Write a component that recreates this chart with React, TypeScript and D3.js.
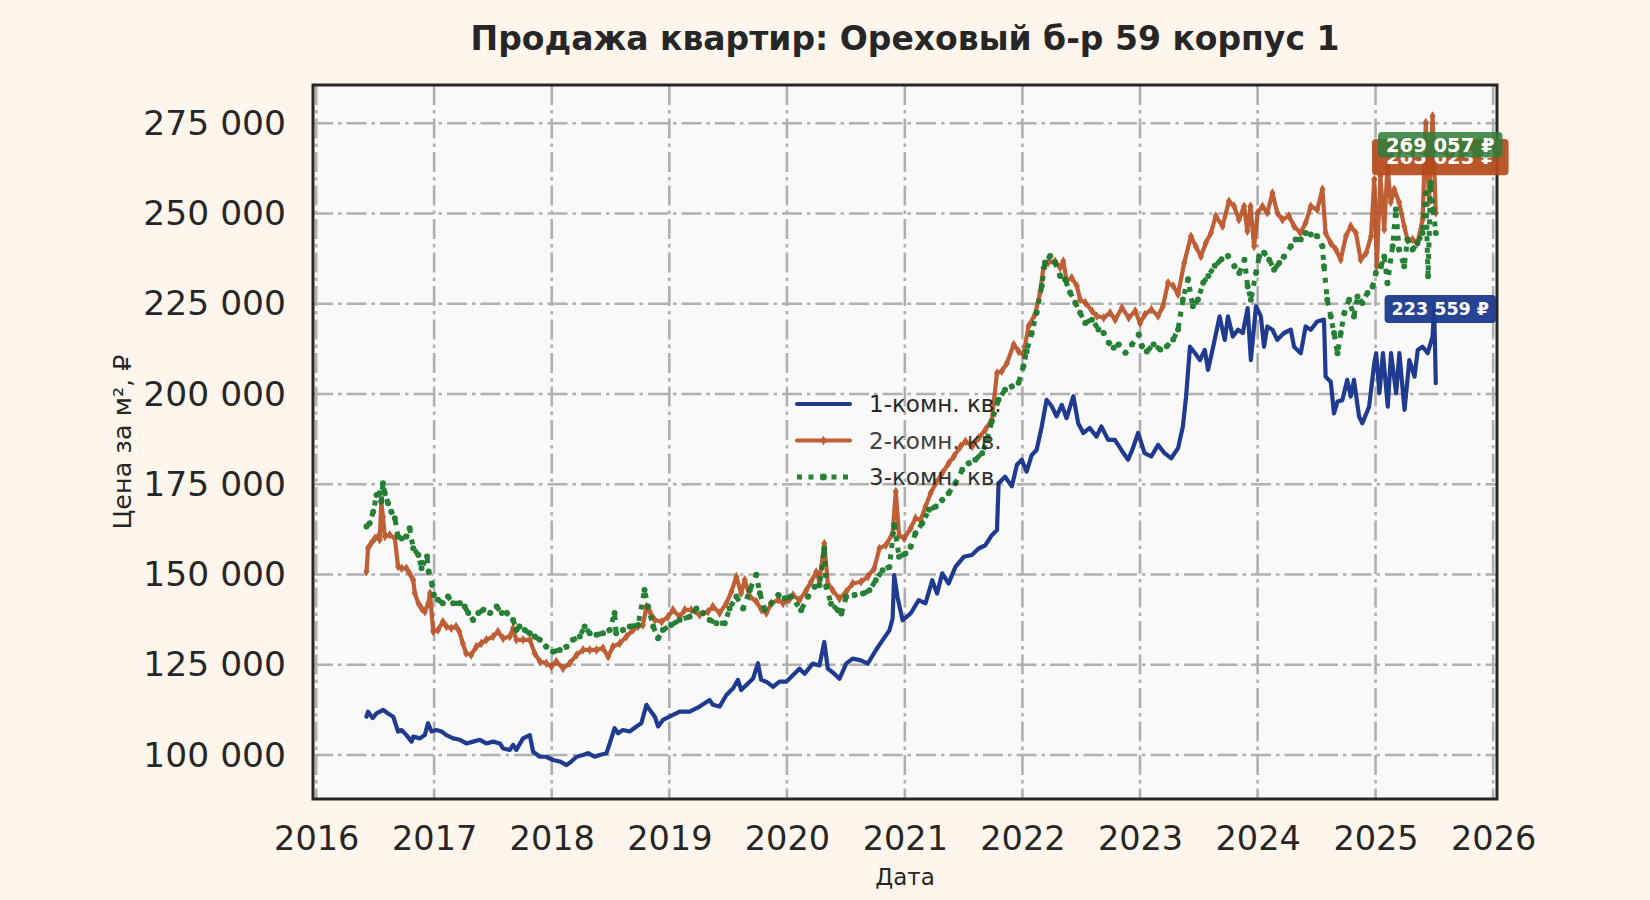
import * as d3 from 'd3';
import { useEffect, useRef } from 'react';

type Point = [string, number];

const chartTitle = 'Продажа квартир: Ореховый б-р 59 корпус 1';
const yAxisLabel = 'Цена за м², ₽';
const xAxisLabel = 'Дата';

const seriesNames = ['1-комн. кв.', '2-комн. кв.', '3-комн. кв.'];

const yTicks = [100000, 125000, 150000, 175000, 200000, 225000, 250000, 275000];
const xTickYears = [2016, 2017, 2018, 2019, 2020, 2021, 2022, 2023, 2024, 2025, 2026];

// 1-room flats
const oneRoom: Point[] = [
  ['2016-06-05', 110600], ['2016-06-10', 112000], ['2016-06-24', 110200], ['2016-07-06', 111500],
  ['2016-07-27', 112500], ['2016-08-11', 111500], ['2016-08-27', 110600], ['2016-09-11', 106500],
  ['2016-09-22', 106900], ['2016-10-07', 105500], ['2016-10-23', 103700], ['2016-10-28', 105100],
  ['2016-11-18', 104600], ['2016-12-03', 105500], ['2016-12-13', 108800], ['2016-12-24', 106500],
  ['2017-01-08', 106900], ['2017-01-24', 106500], ['2017-02-08', 105500], ['2017-03-01', 104600],
  ['2017-03-22', 104200], ['2017-04-11', 103200], ['2017-05-02', 103700], ['2017-05-23', 104200],
  ['2017-06-12', 103200], ['2017-07-03', 103700], ['2017-07-24', 103200], ['2017-08-03', 101800],
  ['2017-08-24', 101400], ['2017-09-03', 102800], ['2017-09-13', 101400], ['2017-10-04', 104600],
  ['2017-10-25', 105500], ['2017-11-04', 100900], ['2017-11-25', 99500], ['2017-12-15', 99500],
  ['2018-01-05', 98600], ['2018-01-26', 98200], ['2018-02-16', 97200], ['2018-03-03', 98200],
  ['2018-03-19', 99500], ['2018-04-08', 100000], ['2018-04-24', 100500], ['2018-05-14', 99500],
  ['2018-05-30', 100000], ['2018-06-20', 100500], ['2018-06-30', 103200], ['2018-07-15', 107400],
  ['2018-07-26', 106000], ['2018-08-10', 106900], ['2018-08-31', 106500], ['2018-09-21', 107900],
  ['2018-10-06', 108800], ['2018-10-22', 113900], ['2018-11-01', 112500], ['2018-11-17', 110600],
  ['2018-11-27', 107900], ['2018-12-12', 109700], ['2019-01-02', 110600], ['2019-02-02', 112000],
  ['2019-03-05', 112000], ['2019-04-05', 113400], ['2019-05-06', 115200], ['2019-05-16', 113900],
  ['2019-06-06', 113400], ['2019-06-27', 116600], ['2019-07-18', 118500], ['2019-08-02', 120800],
  ['2019-08-12', 118000], ['2019-08-28', 119400], ['2019-09-18', 121200], ['2019-10-03', 125400],
  ['2019-10-13', 120800], ['2019-10-29', 120300], ['2019-11-19', 118900], ['2019-12-09', 120300],
  ['2019-12-30', 120300], ['2020-01-14', 121600], ['2020-02-09', 123900], ['2020-02-25', 122500],
  ['2020-03-21', 125300], ['2020-04-11', 124800], ['2020-04-26', 131300], ['2020-05-07', 123900],
  ['2020-05-27', 122500], ['2020-06-12', 121100], ['2020-07-03', 125300], ['2020-07-23', 126700],
  ['2020-08-18', 126200], ['2020-09-08', 125300], ['2020-10-03', 129000], ['2020-10-24', 131800],
  ['2020-11-14', 134500], ['2020-11-24', 137800], ['2020-11-29', 149800], ['2020-12-09', 143800],
  ['2020-12-25', 137300], ['2021-01-19', 139200], ['2021-02-13', 142900], ['2021-03-06', 142000],
  ['2021-03-27', 148400], ['2021-04-11', 144700], ['2021-04-27', 150300], ['2021-05-17', 147500],
  ['2021-06-07', 152100], ['2021-07-03', 154900], ['2021-07-28', 155400], ['2021-08-18', 157200],
  ['2021-09-08', 158100], ['2021-09-28', 160900], ['2021-10-14', 162300], ['2021-10-19', 175300],
  ['2021-11-08', 177100], ['2021-11-29', 174400], ['2021-12-15', 180400], ['2021-12-30', 181800],
  ['2022-01-14', 178500], ['2022-01-30', 183100], ['2022-02-14', 184500], ['2022-03-02', 191000],
  ['2022-03-17', 198400], ['2022-04-02', 196600], ['2022-04-17', 193800], ['2022-05-03', 197000],
  ['2022-05-18', 193300], ['2022-06-08', 199400], ['2022-06-23', 191900], ['2022-07-09', 189200],
  ['2022-07-29', 190600], ['2022-08-19', 188200], ['2022-09-03', 191000], ['2022-09-24', 187300],
  ['2022-10-15', 187300], ['2022-11-04', 184500], ['2022-11-25', 181800], ['2022-12-10', 185000],
  ['2022-12-26', 189200], ['2023-01-15', 183600], ['2023-02-05', 182700], ['2023-02-26', 185900],
  ['2023-03-18', 183600], ['2023-04-08', 182200], ['2023-04-29', 185000], ['2023-05-14', 191000],
  ['2023-05-24', 199300], ['2023-06-05', 213100], ['2023-06-21', 211300], ['2023-07-06', 209400],
  ['2023-07-21', 212200], ['2023-07-31', 206700], ['2023-08-16', 213100], ['2023-09-05', 221500],
  ['2023-09-21', 215000], ['2023-10-01', 221500], ['2023-10-16', 215900], ['2023-11-01', 217800],
  ['2023-11-16', 216900], ['2023-12-01', 223800], ['2023-12-11', 209400], ['2023-12-27', 224300],
  ['2024-01-11', 221500], ['2024-01-21', 213100], ['2024-01-31', 218700], ['2024-02-16', 217800],
  ['2024-03-02', 215000], ['2024-03-23', 216900], ['2024-04-13', 217800], ['2024-04-23', 213100],
  ['2024-05-14', 211300], ['2024-05-29', 218700], ['2024-06-14', 217800], ['2024-07-04', 220100],
  ['2024-07-25', 220600], ['2024-07-30', 204800], ['2024-08-15', 203400], ['2024-08-25', 194600],
  ['2024-09-05', 197900], ['2024-09-20', 198300], ['2024-10-05', 203900], ['2024-10-16', 199300],
  ['2024-10-26', 203900], ['2024-11-11', 193700], ['2024-11-21', 191900], ['2024-12-12', 196500],
  ['2024-12-28', 208500], ['2025-01-03', 211300], ['2025-01-13', 200200], ['2025-01-24', 211300],
  ['2025-02-08', 196500], ['2025-02-18', 211300], ['2025-03-06', 200200], ['2025-03-16', 211300],
  ['2025-04-01', 195600], ['2025-04-16', 209400], ['2025-05-02', 204800], ['2025-05-12', 212200],
  ['2025-05-27', 213100], ['2025-06-12', 211300], ['2025-06-27', 215900], ['2025-07-02', 223600],
  ['2025-07-07', 203000],
];

// 2-room flats
const twoRoom: Point[] = [
  ['2016-06-05', 150800], ['2016-06-10', 157300], ['2016-06-20', 158700], ['2016-07-01', 160000],
  ['2016-07-11', 160500], ['2016-07-16', 159600], ['2016-07-21', 170200], ['2016-07-26', 166000],
  ['2016-08-01', 160500], ['2016-08-16', 161000], ['2016-09-01', 160000], ['2016-09-11', 152200],
  ['2016-09-22', 151700], ['2016-10-07', 151700], ['2016-10-17', 150300], ['2016-10-28', 148500],
  ['2016-11-02', 144800], ['2016-11-13', 142000], ['2016-11-23', 140600], ['2016-12-03', 139700],
  ['2016-12-14', 142000], ['2016-12-19', 144800], ['2016-12-29', 134200], ['2017-01-13', 134600],
  ['2017-01-28', 136900], ['2017-02-08', 135600], ['2017-02-23', 135100], ['2017-03-10', 135600],
  ['2017-03-20', 134200], ['2017-03-31', 130900], ['2017-04-10', 128200], ['2017-04-26', 127700],
  ['2017-05-12', 130000], ['2017-05-27', 130900], ['2017-06-12', 131900], ['2017-07-03', 132800],
  ['2017-07-18', 134200], ['2017-08-03', 132300], ['2017-08-24', 132800], ['2017-09-03', 135100],
  ['2017-09-13', 131900], ['2017-10-04', 131900], ['2017-10-25', 131900], ['2017-11-09', 128200],
  ['2017-11-25', 125900], ['2017-12-15', 125400], ['2017-12-31', 124500], ['2018-01-15', 125900],
  ['2018-02-05', 124000], ['2018-02-26', 125400], ['2018-03-19', 127700], ['2018-04-08', 129100],
  ['2018-04-29', 129100], ['2018-05-20', 129100], ['2018-06-09', 129600], ['2018-06-25', 127200],
  ['2018-07-10', 130000], ['2018-07-31', 130900], ['2018-08-21', 132800], ['2018-09-10', 134600],
  ['2018-09-26', 135600], ['2018-10-11', 136000], ['2018-10-22', 141100], ['2018-11-01', 139700],
  ['2018-11-17', 137400], ['2018-12-08', 136900], ['2018-12-28', 138300], ['2019-01-12', 140200],
  ['2019-02-02', 138300], ['2019-02-18', 140200], ['2019-03-10', 140200], ['2019-04-05', 138800],
  ['2019-05-01', 139700], ['2019-05-16', 141100], ['2019-06-06', 139300], ['2019-06-27', 142000],
  ['2019-07-13', 145300], ['2019-07-28', 149400], ['2019-08-12', 144800], ['2019-08-23', 148500],
  ['2019-09-08', 143900], ['2019-09-28', 142500], ['2019-10-14', 140200], ['2019-10-29', 139300],
  ['2019-11-14', 142000], ['2019-12-05', 143000], ['2019-12-20', 142000], ['2020-01-08', 143000],
  ['2020-01-20', 144300], ['2020-02-09', 142900], ['2020-03-01', 145600], ['2020-03-16', 148000],
  ['2020-04-01', 150700], ['2020-04-11', 148000], ['2020-04-26', 158600], ['2020-05-07', 147500],
  ['2020-05-22', 145600], ['2020-06-12', 143300], ['2020-07-03', 145200], ['2020-07-23', 147500],
  ['2020-08-18', 148000], ['2020-09-08', 149400], ['2020-09-28', 151700], ['2020-10-14', 157200],
  ['2020-11-03', 158100], ['2020-11-24', 161400], ['2020-12-04', 173000], ['2020-12-14', 160900],
  ['2020-12-30', 160000], ['2021-01-19', 162800], ['2021-02-03', 165600], ['2021-02-19', 165100],
  ['2021-03-06', 168800], ['2021-03-22', 172500], ['2021-04-07', 175300], ['2021-04-27', 178100],
  ['2021-05-17', 180800], ['2021-06-02', 182700], ['2021-06-23', 185500], ['2021-07-08', 186900],
  ['2021-07-29', 185500], ['2021-08-18', 187800], ['2021-09-08', 190100], ['2021-09-28', 192900],
  ['2021-10-14', 205800], ['2021-10-29', 206300], ['2021-11-14', 208600], ['2021-12-05', 213700],
  ['2021-12-20', 211800], ['2022-01-04', 210900], ['2022-01-20', 218800], ['2022-02-09', 222000],
  ['2022-02-25', 228100], ['2022-03-07', 235000], ['2022-03-22', 236400], ['2022-04-12', 236800],
  ['2022-04-28', 235000], ['2022-05-08', 236800], ['2022-05-18', 231300], ['2022-06-03', 232200],
  ['2022-06-19', 229900], ['2022-06-29', 226200], ['2022-07-15', 225300], ['2022-08-05', 223000],
  ['2022-08-20', 221600], ['2022-09-10', 221100], ['2022-09-30', 222500], ['2022-10-16', 220600],
  ['2022-11-06', 223900], ['2022-11-27', 221100], ['2022-12-17', 223000], ['2023-01-01', 219700],
  ['2023-01-16', 222000], ['2023-02-05', 223400], ['2023-02-26', 221600], ['2023-03-13', 224300],
  ['2023-03-29', 230800], ['2023-04-14', 229900], ['2023-04-29', 227600], ['2023-05-18', 236300],
  ['2023-06-08', 243700], ['2023-06-23', 240900], ['2023-07-09', 238100], ['2023-07-24', 241800],
  ['2023-08-09', 244600], ['2023-08-24', 249300], ['2023-09-14', 246500], ['2023-10-04', 253400],
  ['2023-10-20', 252000], ['2023-11-04', 248300], ['2023-11-20', 252000], ['2023-11-30', 245100],
  ['2023-12-10', 252000], ['2023-12-21', 240900], ['2024-01-01', 250200], ['2024-01-16', 252000],
  ['2024-01-31', 250200], ['2024-02-16', 255700], ['2024-03-02', 250200], ['2024-03-18', 248300],
  ['2024-04-07', 249300], ['2024-04-23', 246500], ['2024-05-13', 244600], ['2024-05-29', 247400],
  ['2024-06-14', 252000], ['2024-07-04', 251100], ['2024-07-20', 256700], ['2024-07-30', 244600],
  ['2024-08-15', 241800], ['2024-08-31', 240000], ['2024-09-15', 237200], ['2024-10-01', 243700],
  ['2024-10-16', 246500], ['2024-11-01', 244600], ['2024-11-16', 237200], ['2024-12-03', 239100],
  ['2024-12-18', 243700], ['2024-12-28', 259400], ['2025-01-05', 235400], ['2025-01-16', 260400],
  ['2025-01-28', 245600], ['2025-02-07', 263100], ['2025-02-17', 253100], ['2025-02-28', 256700],
  ['2025-03-15', 253100], ['2025-03-31', 246500], ['2025-04-10', 242800], ['2025-04-26', 242800],
  ['2025-05-11', 241800], ['2025-05-27', 248300], ['2025-06-06', 275200], ['2025-06-16', 253100],
  ['2025-06-27', 277000], ['2025-07-07', 250200],
];

// 3-room flats
const threeRoom: Point[] = [
  ['2016-06-05', 163300], ['2016-06-15', 164200], ['2016-06-26', 167400], ['2016-07-06', 172000],
  ['2016-07-16', 172500], ['2016-07-21', 170200], ['2016-07-26', 175300], ['2016-08-01', 172500],
  ['2016-08-11', 169700], ['2016-08-21', 167400], ['2016-09-01', 165600], ['2016-09-11', 160500],
  ['2016-09-22', 160000], ['2016-10-07', 160500], ['2016-10-17', 162800], ['2016-10-28', 157300],
  ['2016-11-13', 155400], ['2016-11-23', 151700], ['2016-12-10', 155000], ['2016-12-15', 150800],
  ['2016-12-26', 147100], ['2016-12-31', 144300], ['2017-01-13', 143000], ['2017-01-28', 142000],
  ['2017-02-13', 143900], ['2017-03-01', 142000], ['2017-03-22', 142000], ['2017-04-06', 141100],
  ['2017-04-17', 139300], ['2017-05-02', 137400], ['2017-05-18', 139300], ['2017-06-03', 140200],
  ['2017-06-24', 139300], ['2017-07-14', 141100], ['2017-07-30', 139300], ['2017-08-15', 139300],
  ['2017-09-03', 137400], ['2017-09-13', 134600], ['2017-09-23', 135600], ['2017-10-09', 134600],
  ['2017-10-25', 133700], ['2017-11-09', 132800], ['2017-11-25', 131900], ['2017-12-15', 130000],
  ['2018-01-05', 128600], ['2018-01-26', 129100], ['2018-02-16', 130000], ['2018-03-08', 131900],
  ['2018-03-29', 132800], ['2018-04-13', 135600], ['2018-04-29', 133700], ['2018-05-20', 133300],
  ['2018-06-09', 133700], ['2018-06-30', 134600], ['2018-07-15', 139300], ['2018-07-20', 133700],
  ['2018-08-10', 134600], ['2018-08-31', 135600], ['2018-09-26', 136000], ['2018-10-16', 145700],
  ['2018-10-27', 141100], ['2018-11-12', 135600], ['2018-11-27', 132300], ['2018-12-12', 134600],
  ['2019-01-07', 136000], ['2019-02-02', 137400], ['2019-03-05', 138300], ['2019-03-26', 140600],
  ['2019-04-16', 139300], ['2019-05-06', 137400], ['2019-05-27', 136500], ['2019-06-22', 136500],
  ['2019-07-07', 140600], ['2019-07-28', 143900], ['2019-08-18', 140600], ['2019-09-08', 145700],
  ['2019-09-28', 149900], ['2019-10-09', 144800], ['2019-10-24', 140200], ['2019-11-14', 142000],
  ['2019-12-05', 144300], ['2019-12-25', 143400], ['2020-01-14', 143900], ['2020-02-14', 140100],
  ['2020-03-06', 143800], ['2020-03-27', 146600], ['2020-04-11', 147000], ['2020-04-26', 157200],
  ['2020-05-02', 146600], ['2020-05-17', 141900], ['2020-06-07', 140100], ['2020-06-18', 139200],
  ['2020-07-03', 143800], ['2020-07-29', 144300], ['2020-08-24', 144700], ['2020-09-13', 145600],
  ['2020-10-03', 148400], ['2020-10-24', 151200], ['2020-11-14', 152100], ['2020-11-29', 163700],
  ['2020-12-14', 154900], ['2021-01-03', 155800], ['2021-01-19', 157700], ['2021-02-03', 161400],
  ['2021-02-24', 164200], ['2021-03-17', 167900], ['2021-04-07', 168800], ['2021-04-27', 170600],
  ['2021-05-17', 172500], ['2021-06-07', 175300], ['2021-06-28', 179000], ['2021-07-18', 180800],
  ['2021-08-08', 181800], ['2021-08-29', 183600], ['2021-09-13', 187300], ['2021-09-28', 192400],
  ['2021-10-19', 198400], ['2021-11-08', 201200], ['2021-11-29', 202100], ['2021-12-20', 203100],
  ['2022-01-04', 207700], ['2022-01-14', 211800], ['2022-01-30', 216900], ['2022-02-14', 222500],
  ['2022-03-02', 229900], ['2022-03-12', 236400], ['2022-03-28', 238200], ['2022-04-12', 236400],
  ['2022-04-28', 232700], ['2022-05-13', 231800], ['2022-05-29', 228100], ['2022-06-14', 225300],
  ['2022-06-29', 222500], ['2022-07-15', 219700], ['2022-08-05', 220600], ['2022-08-25', 217900],
  ['2022-09-10', 216900], ['2022-09-26', 214200], ['2022-10-11', 212800], ['2022-10-27', 213700],
  ['2022-11-17', 211400], ['2022-12-07', 213700], ['2022-12-28', 216500], ['2023-01-07', 213200],
  ['2023-01-22', 211800], ['2023-02-12', 213700], ['2023-03-05', 212300], ['2023-03-25', 213200],
  ['2023-04-14', 215100], ['2023-04-29', 217900], ['2023-05-14', 226200], ['2023-05-30', 231800],
  ['2023-06-14', 224300], ['2023-06-30', 226200], ['2023-07-16', 230800], ['2023-08-01', 232700],
  ['2023-08-21', 235500], ['2023-09-11', 237300], ['2023-10-01', 238200], ['2023-10-21', 235400],
  ['2023-11-05', 233500], ['2023-11-21', 237200], ['2023-12-01', 229800], ['2023-12-11', 226100],
  ['2023-12-27', 233500], ['2024-01-06', 238100], ['2024-01-21', 239100], ['2024-02-06', 237200],
  ['2024-02-21', 234400], ['2024-03-08', 236300], ['2024-03-23', 238100], ['2024-04-13', 240900],
  ['2024-04-28', 242800], ['2024-05-14', 242800], ['2024-05-29', 244600], ['2024-06-14', 244200],
  ['2024-07-04', 243700], ['2024-07-20', 240900], ['2024-07-25', 235400], ['2024-08-04', 226100],
  ['2024-08-15', 221500], ['2024-08-25', 216900], ['2024-09-05', 211300], ['2024-09-15', 216900],
  ['2024-09-26', 222400], ['2024-10-11', 226100], ['2024-10-26', 221500], ['2024-11-06', 227000],
  ['2024-11-21', 225200], ['2024-12-07', 228000], ['2024-12-23', 229800], ['2025-01-02', 233500],
  ['2025-01-18', 235400], ['2025-01-28', 238100], ['2025-02-07', 230700], ['2025-02-23', 240900],
  ['2025-03-05', 251100], ['2025-03-15', 240000], ['2025-03-31', 235400], ['2025-04-10', 242800],
  ['2025-04-26', 240000], ['2025-05-11', 241800], ['2025-05-27', 244600], ['2025-06-06', 255700],
  ['2025-06-13', 232600], ['2025-06-21', 258500], ['2025-06-29', 251100], ['2025-07-07', 244600],
];

// latest prices shown in the coloured boxes
const lastDates = ['2025-07-21', '2025-07-21', '2025-07-21'];
const lastValues = [223559, 265623, 269057];

const seriesData = [oneRoom, twoRoom, threeRoom];

const styles = [
  { color: '#1f3a8f', width: 4.2, opacity: 1, dash: null as string | null, marker: 'none', box: '#1a3a8c', boxOpacity: 0.95, fs: 17.5, padX: 7, padY: 4 },
  { color: '#b84a1c', width: 4.2, opacity: 0.88, dash: null as string | null, marker: 'diamond', box: '#b5491b', boxOpacity: 0.92, fs: 19.5, padX: 14, padY: 7 },
  { color: '#1b7a2b', width: 5, opacity: 0.95, dash: '5 6.5', marker: 'circle', box: '#2e7d3a', boxOpacity: 0.85, fs: 19.5, padX: 8, padY: 1.5 },
];

const W = 1650;
const H = 900;
const margin = { top: 85, right: 153, bottom: 101, left: 313 };
const FONT = '"DejaVu Sans", "Noto Sans", sans-serif';
const TEXT = '#262626';

export default function App() {
  const ref = useRef<SVGSVGElement | null>(null);

  useEffect(() => {
    document.body.style.margin = '0';
    if (!ref.current) return;
    const svg = d3.select(ref.current);
    svg.selectAll('*').remove();

    const parse = d3.timeParse('%Y-%m-%d');
    const left = margin.left;
    const right = W - margin.right;
    const top = margin.top;
    const bottom = H - margin.bottom;

    const x = d3.scaleTime()
      .domain([parse('2015-12-22')!, parse('2026-01-13')!])
      .range([left, right]);
    const y = d3.scaleLinear().domain([87800, 285600]).range([bottom, top]);

    const ru = d3.formatLocale({ decimal: ',', thousands: ' ', grouping: [3], currency: ['', ' ₽'] });
    const fmt = ru.format(',.0f');

    svg.append('rect').attr('width', W).attr('height', H).attr('fill', '#fef6ed');
    svg.append('rect')
      .attr('x', left).attr('y', top)
      .attr('width', right - left).attr('height', bottom - top)
      .attr('fill', '#f9f9f9');

    // grid
    const gridDash = '20 5 3.5 5';
    const xTickDates = xTickYears.map((yr) => new Date(yr, 0, 1));
    svg.append('g')
      .selectAll('line')
      .data(yTicks)
      .join('line')
      .attr('x1', left).attr('x2', right)
      .attr('y1', (d) => y(d)).attr('y2', (d) => y(d))
      .attr('stroke', '#b0b0b0').attr('stroke-width', 2.6)
      .attr('stroke-dasharray', gridDash);
    svg.append('g')
      .selectAll('line')
      .data(xTickDates)
      .join('line')
      .attr('x1', (d) => x(d)).attr('x2', (d) => x(d))
      .attr('y1', top).attr('y2', bottom)
      .attr('stroke', '#b0b0b0').attr('stroke-width', 2.6)
      .attr('stroke-dasharray', gridDash);

    // lines
    const clip = svg.append('clipPath').attr('id', 'plot-clip');
    clip.append('rect').attr('x', left).attr('y', top).attr('width', right - left).attr('height', bottom - top);
    const plot = svg.append('g').attr('clip-path', 'url(#plot-clip)');

    const line = d3.line<Point>()
      .x((d) => x(parse(d[0])!))
      .y((d) => y(d[1]));

    const diamond = 'M0,-4.8L3,0L0,4.8L-3,0Z';

    seriesData.forEach((data, i) => {
      const s = styles[i];
      const g = plot.append('g').attr('opacity', s.opacity);
      g.append('path')
        .datum(data)
        .attr('d', line)
        .attr('fill', 'none')
        .attr('stroke', s.color)
        .attr('stroke-width', s.width)
        .attr('stroke-linejoin', 'round')
        .attr('stroke-linecap', s.dash ? 'butt' : 'round')
        .attr('stroke-dasharray', s.dash);
      if (s.marker === 'diamond') {
        g.selectAll('path.m')
          .data(data)
          .join('path')
          .attr('class', 'm')
          .attr('d', diamond)
          .attr('transform', (d) => `translate(${x(parse(d[0])!)},${y(d[1])})`)
          .attr('fill', s.color);
      } else if (s.marker === 'circle') {
        g.selectAll('circle')
          .data(data)
          .join('circle')
          .attr('cx', (d) => x(parse(d[0])!))
          .attr('cy', (d) => y(d[1]))
          .attr('r', 3)
          .attr('fill', s.color);
      }
    });

    // frame
    svg.append('rect')
      .attr('x', left).attr('y', top)
      .attr('width', right - left).attr('height', bottom - top)
      .attr('fill', 'none').attr('stroke', '#262626').attr('stroke-width', 3);

    // axes
    const yAxis = svg.append('g')
      .attr('transform', `translate(${left},0)`)
      .call(d3.axisLeft(y).tickValues(yTicks).tickSize(0).tickPadding(27).tickFormat((d) => fmt(d as number)));
    yAxis.select('.domain').remove();
    yAxis.selectAll('text')
      .attr('font-family', FONT).attr('font-size', 34.5).attr('fill', TEXT);

    const xAxis = svg.append('g')
      .attr('transform', `translate(0,${bottom})`)
      .call(d3.axisBottom(x).tickValues(xTickDates).tickSize(0).tickPadding(27).tickFormat((d) => d3.timeFormat('%Y')(d as Date)));
    xAxis.select('.domain').remove();
    xAxis.selectAll('text')
      .attr('font-family', FONT).attr('font-size', 33.5).attr('fill', TEXT);

    // titles
    svg.append('text')
      .attr('x', (left + right) / 2).attr('y', 50)
      .attr('text-anchor', 'middle')
      .attr('font-family', FONT).attr('font-size', 33).attr('font-weight', 'bold')
      .attr('fill', TEXT)
      .text(chartTitle);
    svg.append('text')
      .attr('transform', `translate(122,${(top + bottom) / 2}) rotate(-90)`)
      .attr('text-anchor', 'middle').attr('dominant-baseline', 'central')
      .attr('font-family', FONT).attr('font-size', 25.5).attr('fill', TEXT)
      .text(yAxisLabel);
    svg.append('text')
      .attr('x', (left + right) / 2).attr('y', 877)
      .attr('text-anchor', 'middle').attr('dominant-baseline', 'central')
      .attr('font-family', FONT).attr('font-size', 23).attr('fill', TEXT)
      .text(xAxisLabel);

    // legend
    const legend = svg.append('g').attr('transform', 'translate(797,404)');
    seriesNames.forEach((name, i) => {
      const s = styles[i];
      const row = legend.append('g').attr('transform', `translate(0,${i * 36.5})`).attr('opacity', s.opacity);
      row.append('line')
        .attr('x1', 0).attr('x2', 53)
        .attr('stroke', s.color).attr('stroke-width', s.width)
        .attr('stroke-linecap', s.dash ? 'butt' : 'round')
        .attr('stroke-dasharray', s.dash);
      if (s.marker === 'diamond') row.append('path').attr('d', diamond).attr('transform', 'translate(26.5,0)').attr('fill', s.color);
      if (s.marker === 'circle') row.append('circle').attr('cx', 26.5).attr('r', 3.4).attr('fill', s.color);
      row.append('text')
        .attr('x', 72).attr('dy', '0.35em')
        .attr('font-family', FONT).attr('font-size', 23).attr('fill', TEXT)
        .text(name);
    });

    // latest value boxes
    lastValues.forEach((v, i) => {
      const s = styles[i];
      const cx = x(parse(lastDates[i])!);
      const cy = y(v);
      const g = svg.append('g');
      const rect = g.append('rect').attr('fill', s.box).attr('opacity', s.boxOpacity).attr('rx', 4);
      const t = g.append('text')
        .attr('x', cx).attr('y', cy).attr('dy', '0.36em')
        .attr('text-anchor', 'middle')
        .attr('font-family', FONT).attr('font-size', s.fs).attr('font-weight', 'bold')
        .attr('fill', '#ffffff')
        .text(`${fmt(v)} ₽`);
      const tw = (t.node() as SVGTextElement).getComputedTextLength();
      const th = s.fs * 1.15;
      rect
        .attr('x', cx - tw / 2 - s.padX).attr('y', cy - th / 2 - s.padY)
        .attr('width', tw + 2 * s.padX).attr('height', th + 2 * s.padY);
    });
  }, []);

  return <svg ref={ref} width={W} height={H} style={{ display: 'block' }} />;
}
